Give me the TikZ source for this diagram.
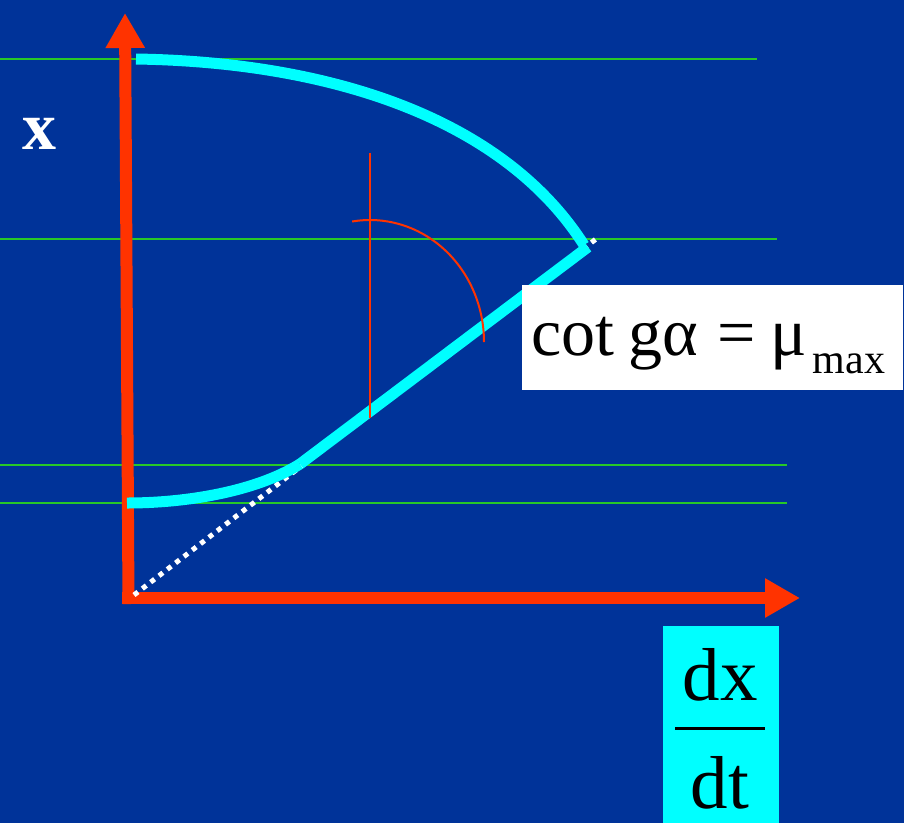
\documentclass[tikz,border=0pt]{standalone}
\usepackage{fontspec}
\setmainfont{Liberation Serif}
\usetikzlibrary{arrows.meta}
\definecolor{bg}{RGB}{0,51,153}
\definecolor{axred}{RGB}{255,51,0}
\definecolor{grn}{RGB}{40,200,40}
\definecolor{cyn}{RGB}{0,255,255}
\tikzset{
  axis/.style={draw=axred, line width=12pt, -{Triangle[length=35pt,width=37pt]}},
  level/.style={draw=grn, line width=2.5pt},
  curve/.style={draw=cyn, line width=11pt},
  thinred/.style={draw=axred, line width=2pt},
  dots/.style={draw=white, line width=5pt, dash pattern=on 5pt off 5.5pt},
}
\begin{document}
\begin{tikzpicture}[x=1pt,y=-1pt]
\path[fill=bg] (0,0) rectangle (904,823);
\useasboundingbox (0,0) rectangle (904,823);
% level lines
\draw[level] (0,59) -- (757,59);
\draw[level] (0,239) -- (777,239);
\draw[level] (0,465) -- (787,465);
\draw[level] (0,503) -- (787,503);
% axes
\coordinate (O) at (128,598);
\coordinate (ytip) at (125,13);
\coordinate (xtip) at (800,598);
\draw[axis] (128.5,604) -- (ytip);
\draw[axis] (122,598) -- (xtip);
% dotted tangent line
\coordinate (T) at (596,239);
\draw[dots] (134,595) -- (T);
% cyan characteristic
\coordinate (A) at (136,59);
\coordinate (B) at (588,247);
\coordinate (C) at (300,464);
\coordinate (D) at (127,503);
\draw[curve] (A) .. controls (330,62) and (503,118) .. (584,245);
\draw[curve] (B) -- (C);
\draw[curve] (C) .. controls (255,492) and (185,503) .. (D);
% thin red construction
\draw[thinred] (370,153) -- (370,418);
\draw[thinred] plot[domain=0:99, samples=40, smooth] ({370+114*cos(\x)},{342-122*sin(\x)});
% labels
\node[text=white, font=\bfseries\fontsize{68}{70}\selectfont, anchor=base, inner sep=0] (xl) at (40,149) {x};
\node[fill=white, minimum width=381pt, minimum height=105pt, inner sep=0, anchor=north west] (lbox) at (522,285) {};
\node[anchor=base west, inner sep=0, font=\fontsize{68}{70}\selectfont] (lbl) at (531,355)
  {cot\hspace{14pt}gα\hspace{20pt}=\hspace{14pt}μ\hspace{6pt}\raisebox{-18pt}{\fontsize{42}{42}\selectfont max}};
\node[fill=cyn, minimum width=116pt, minimum height=197pt, inner sep=0, anchor=north west] (fbox) at (663,626) {};
\node[anchor=base, inner sep=0, font=\fontsize{75}{75}\selectfont] (dx) at (720,700) {dx};
\node[anchor=base, inner sep=0, font=\fontsize{75}{75}\selectfont] (dt) at (720,808) {dt};
\draw[line width=3pt] (675,728) -- (765,728);
\end{tikzpicture}
\end{document}
